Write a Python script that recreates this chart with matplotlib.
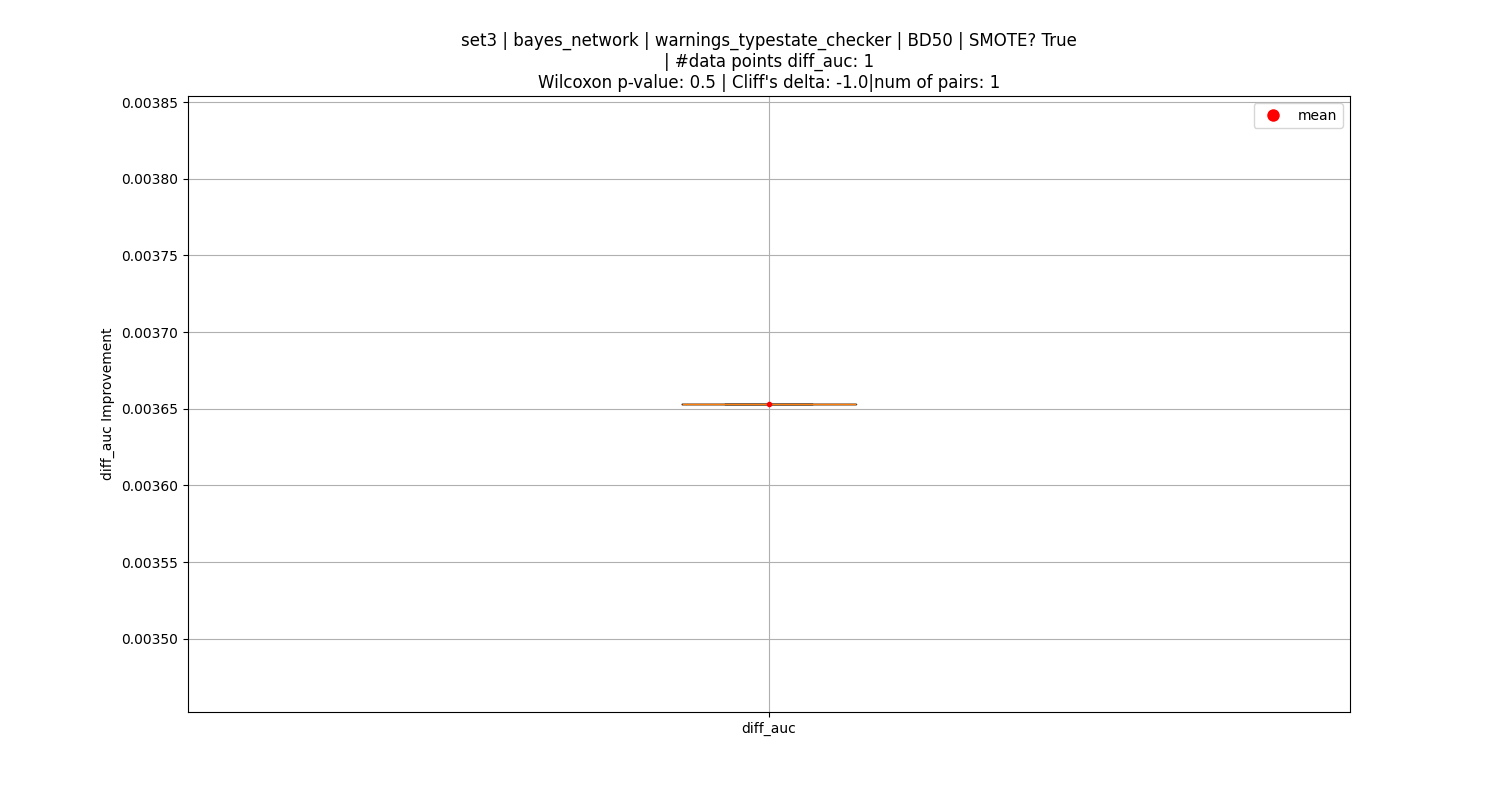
import matplotlib
matplotlib.use("Agg")
import matplotlib.pyplot as plt
from matplotlib.lines import Line2D

labels = ["diff_auc"]
diff_auc = [0.0036531]

fig, ax = plt.subplots(figsize=(15, 8), dpi=100)
ax.boxplot([diff_auc], tick_labels=labels, widths=0.15, showmeans=True,
           meanprops=dict(marker="o", markerfacecolor="red", markeredgecolor="red", markersize=3))
ax.grid(True)
ax.set_ylabel("diff_auc Improvement")
ax.set_title("set3 | bayes_network | warnings_typestate_checker | BD50 | SMOTE? True\n"
             "| #data points diff_auc: 1\n"
             "Wilcoxon p-value: 0.5 | Cliff's delta: -1.0|num of pairs: 1")
handle = Line2D([], [], marker="o", color="w", markerfacecolor="red", markersize=10, label="mean")
ax.legend(handles=[handle], loc="upper right")
fig.savefig("out.png")
